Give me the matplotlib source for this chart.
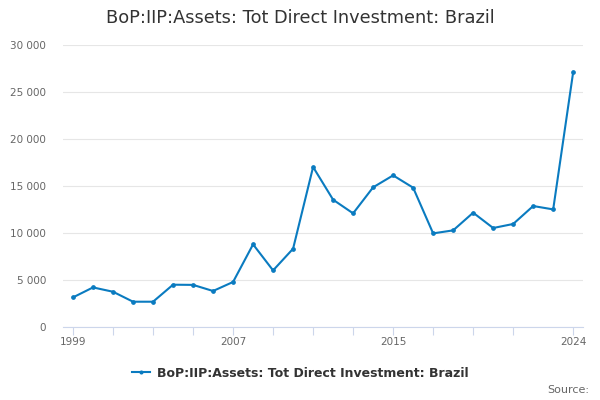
import matplotlib.pyplot as plt
from matplotlib.ticker import FuncFormatter

# Values
years = list(range(1999, 2025))
values = [3150, 4210, 3750, 2690, 2690, 4500, 4480, 3830, 4790, 8790,
          6020, 8330, 17020, 13540, 12090, 14860, 16130, 14820, 9960, 10280,
          12160, 10530, 10960, 12870, 12510, 27130]
tick_years = [1999, 2001, 2003, 2005, 2007, 2009, 2011, 2013, 2015, 2017,
              2019, 2021, 2024]
label_years = [1999, 2007, 2015, 2024]
y_ticks = [0, 5000, 10000, 15000, 20000, 25000, 30000]

title = 'BoP:IIP:Assets: Tot Direct Investment: Brazil'
line_color = '#0a7bc0'

fig = plt.figure(figsize=(6, 4), dpi=100)
ax = fig.add_axes([0.105, 0.1825, 0.867, 0.705])

ax.plot(years, values, '-o', color=line_color, lw=1.5, ms=2.4,
        label=title, zorder=3)

ax.set_xlim(1998.5, 2024.5)
ax.set_ylim(0, 30000)
ax.set_yticks(y_ticks)
ax.yaxis.set_major_formatter(FuncFormatter(lambda v, p: f'{int(v):,}'.replace(',', ' ')))
ax.set_xticks(tick_years)
ax.set_xticklabels([str(y) if y in label_years else '' for y in tick_years])

ax.grid(axis='y', color='#e6e6e6', lw=0.8)
ax.set_axisbelow(True)
for s in ['top', 'right', 'left']:
    ax.spines[s].set_visible(False)
ax.spines['bottom'].set_color('#ccd6eb')
ax.tick_params(axis='y', length=0, labelsize=7.5, labelcolor='#666666', pad=12)
ax.tick_params(axis='x', length=6, color='#ccd6eb', labelsize=7.5,
               labelcolor='#666666', pad=1)

fig.text(0.5, 0.955, title, ha='center', va='center', fontsize=12.8,
         color='#333333')

leg = fig.legend(loc='center', bbox_to_anchor=(0.5, 0.067), frameon=False,
                 prop={'weight': 'bold', 'size': 9}, handlelength=1.5,
                 handletextpad=0.5, markerscale=0.8)
for t in leg.get_texts():
    t.set_color('#333333')

fig.text(0.982, 0.025, 'Source:', ha='right', va='center', fontsize=8, color='#666666')

fig.savefig('out.png', dpi=100)
